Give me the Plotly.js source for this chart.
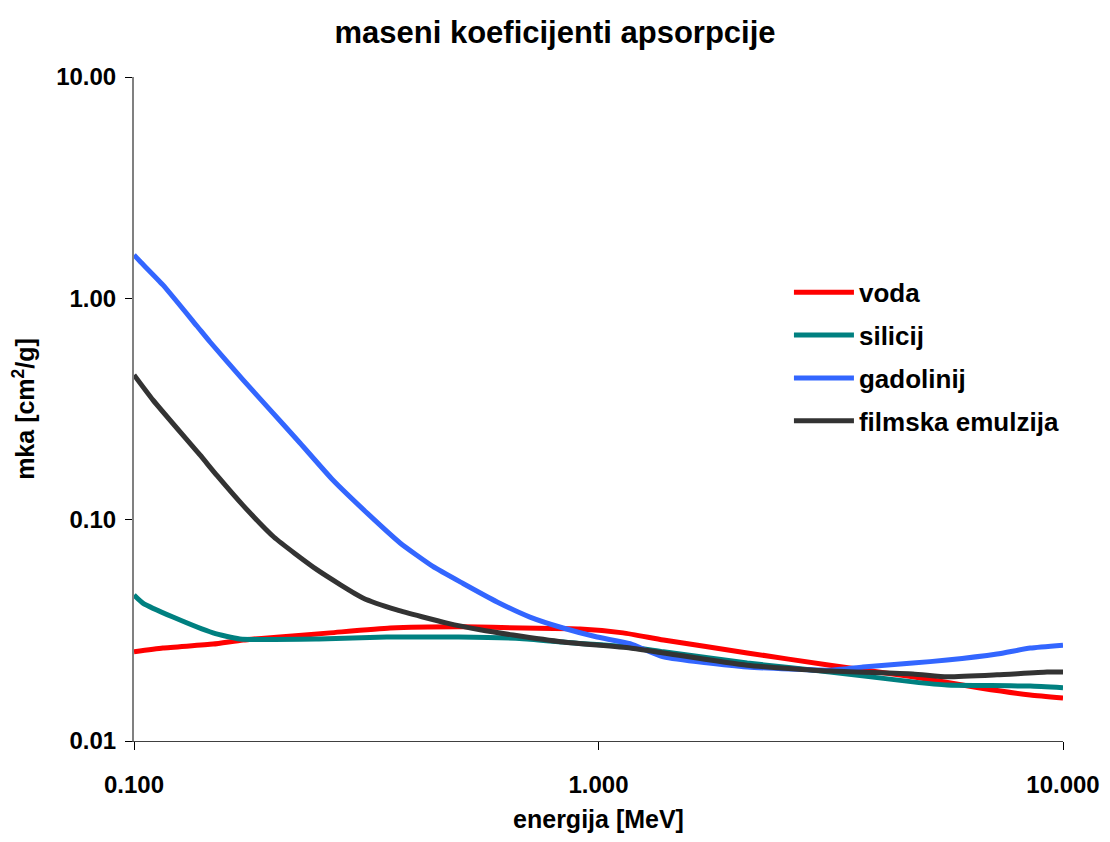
<!DOCTYPE html>
<html>
<head>
<meta charset="utf-8">
<script src="https://cdn.plot.ly/plotly-3.0.1.min.js"></script>
<style>
html,body{margin:0;padding:0;background:#fff;}
#chart{width:1110px;height:842px;}
</style>
</head>
<body>
<div id="chart"></div>
<script>
// energies [MeV] and mass absorption coefficients [cm2/g]
const vodaE   = [0.1, 0.1154, 0.148, 0.1717, 0.206, 0.264, 0.356, 0.511, 0.687, 0.912, 1.13, 1.38, 2.09, 3.15, 4.75, 6.63, 8.5, 10];
const vodaMka = [0.0253, 0.0263, 0.0274, 0.0286, 0.0295, 0.0308, 0.0324, 0.0328, 0.0324, 0.0321, 0.0308, 0.0286, 0.025, 0.022, 0.0195, 0.01736, 0.01614, 0.01564];

const silicijE   = [0.1, 0.1045, 0.1213, 0.148, 0.169, 0.25, 0.35, 0.5, 0.687, 0.839, 0.912, 1.17, 1.38, 2.09, 3.15, 4.75, 5.63, 7.0, 8.5, 10];
const silicijMka = [0.0457, 0.042, 0.0363, 0.0308, 0.0289, 0.0289, 0.0295, 0.0295, 0.029, 0.028, 0.0276, 0.0266, 0.0253, 0.0225, 0.0205, 0.0185, 0.0179, 0.0178, 0.0177, 0.0174];

const gadolinijE   = [0.1, 0.103, 0.1154, 0.1366, 0.1458, 0.1717, 0.1933, 0.2277, 0.268, 0.3177, 0.374, 0.440, 0.511, 0.605, 0.712, 0.839, 0.993, 1.17, 1.38, 2.09, 3.15, 3.71, 4.75, 5.63, 7.21, 8.5, 10];
const gadolinijMka = [1.57, 1.47, 1.15, 0.75, 0.635, 0.428, 0.325, 0.222, 0.151, 0.107, 0.0785, 0.0615, 0.0515, 0.0425, 0.0363, 0.0324, 0.0295, 0.0275, 0.024, 0.0216, 0.0209, 0.0216, 0.0225, 0.0232, 0.0247, 0.0263, 0.0271];

const emulzijaE   = [0.1, 0.1099, 0.1387, 0.151, 0.1717, 0.2, 0.248, 0.311, 0.368, 0.472, 0.556, 0.655, 0.839, 1.17, 1.38, 2.09, 3.15, 4.75, 5.63, 7.21, 9.24, 10];
const emulzijaMka = [0.451, 0.347, 0.196, 0.158, 0.116, 0.0835, 0.0593, 0.0443, 0.0391, 0.0341, 0.0318, 0.0301, 0.028, 0.0263, 0.025, 0.022, 0.0207, 0.0201, 0.0195, 0.0199, 0.0205, 0.0205];

const seriesNames = ["voda", "silicij", "gadolinij", "filmska emulzija"];
const seriesColors = ["#FF0000", "#008080", "#3366FF", "#333333"];

const xTickVals = [0.1, 1, 10];
const xTickText = ["0.100", "1.000", "10.000"];
const yTickVals = [0.01, 0.1, 1, 10];
const yTickText = ["0.01", "0.10", "1.00", "10.00"];

const xs = [vodaE, silicijE, gadolinijE, emulzijaE];
const ys = [vodaMka, silicijMka, gadolinijMka, emulzijaMka];

const FONT = "Liberation Sans, Arial, sans-serif";

const traces = seriesNames.map((n, i) => ({
  type: "scatter",
  mode: "lines",
  name: n,
  legendgroup: n,
  x: xs[i],
  y: ys[i],
  line: {color: seriesColors[i], width: 5, shape: "spline", smoothing: 0.5}
}));

const layout = {
  width: 1110, height: 842,
  paper_bgcolor: "#fff", plot_bgcolor: "#fff",
  margin: {l: 134, r: 47, t: 77, b: 101},
  font: {family: FONT, color: "#000"},
  title: {text: "<b>maseni koeficijenti apsorpcije</b>", font: {size: 31, family: FONT, color: "#000"},
          x: 0.5, xref: "container", xanchor: "center", y: 0.962, yanchor: "middle"},
  xaxis: {
    type: "log", range: [-1, 1],
    tickvals: xTickVals, ticktext: xTickText,
    ticks: "outside", ticklen: 8, tickcolor: "#000", tickwidth: 1,
    ticklabelstandoff: 14,
    showline: true, linecolor: "#404040", linewidth: 1,
    showgrid: false, zeroline: false,
    tickfont: {size: 24, family: FONT, color: "#000", weight: "bold"},
    title: {text: "<b>energija [MeV]</b>", font: {size: 25, family: FONT, color: "#000"}, standoff: 13}
  },
  yaxis: {
    type: "log", range: [-2, 1],
    tickvals: yTickVals, ticktext: yTickText,
    ticks: "outside", ticklen: 7, tickcolor: "#000", tickwidth: 1,
    ticklabelstandoff: 4,
    showline: true, linecolor: "#808080", linewidth: 2,
    showgrid: false, zeroline: false,
    tickfont: {size: 24, family: FONT, color: "#000", weight: "bold"},
    title: {text: "<b>mka [cm<sup>2</sup>/g]</b>", font: {size: 25, family: FONT, color: "#000"}, standoff: 14}
  },
  showlegend: true,
  legend: {
    x: 0.705, y: 0.711, xanchor: "left", yanchor: "top",
    bgcolor: "rgba(0,0,0,0)", borderwidth: 0,
    traceorder: "grouped", tracegroupgap: 6,
    itemwidth: 60,
    font: {size: 26, family: FONT, color: "#000", weight: "bold"}
  }
};

Plotly.newPlot("chart", traces, layout, {staticPlot: true, displayModeBar: false});
</script>
</body>
</html>
